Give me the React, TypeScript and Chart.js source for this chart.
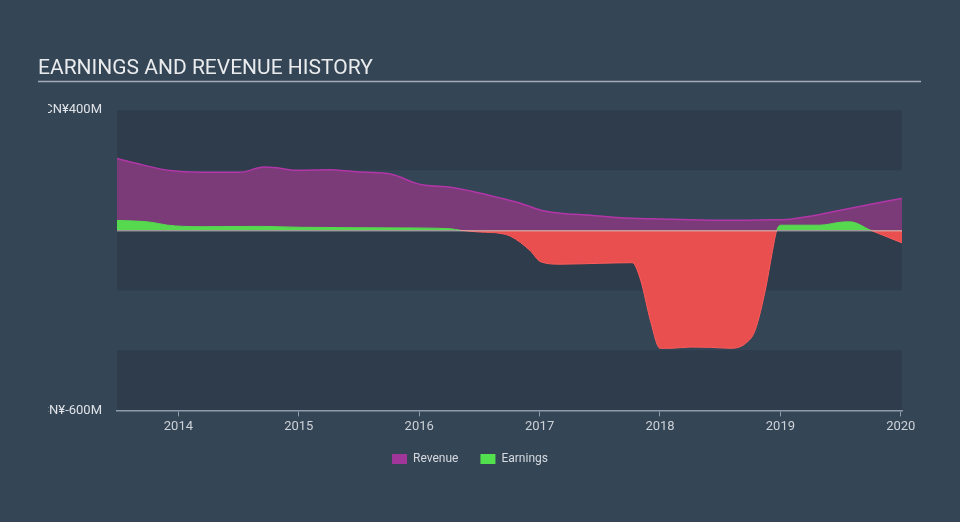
import React, { useEffect, useRef } from "react";
import { Chart, registerables } from "chart.js";

Chart.register(...registerables);

// ---- data (years as decimals, values in CN¥ millions) ----
const revenueDates = [2013.49, 2013.71, 2013.91, 2014.18, 2014.51, 2014.71, 2014.82, 2014.97, 2015.26, 2015.47, 2015.72, 2015.8, 2015.97, 2016.05, 2016.26, 2016.47, 2016.67, 2016.84, 2017.01, 2017.17, 2017.42, 2017.67, 2017.92, 2018.34, 2018.58, 2018.92, 2019.08, 2019.25, 2019.5, 2019.75, 2020.01];
const revenueValues = [239, 217, 200, 193, 193, 211, 208, 200, 202, 195, 190, 183, 157, 150, 143, 127, 108, 90, 67, 57, 50, 42, 38, 34, 33, 35, 37, 47, 67, 87, 106];

const earningsDates = [2013.49, 2013.77, 2013.91, 2014.18, 2014.68, 2015.01, 2015.84, 2016.26, 2016.34, 2016.51, 2016.67, 2016.76, 2016.92, 2017.01, 2017.17, 2017.5, 2017.77, 2017.84, 2017.92, 2018.0, 2018.09, 2018.25, 2018.42, 2018.58, 2018.71, 2018.79, 2018.88, 2018.93, 2018.97, 2019.0, 2019.33, 2019.5, 2019.58, 2019.75, 2020.01];
const earningsValues = [33, 27, 17, 12, 13, 10, 8, 5, 0, -6, -10, -20, -67, -105, -113, -110, -108, -167, -300, -393, -393, -389, -390, -393, -377, -333, -189, -78, 0, 17, 17, 27, 28, 0, -42];

const xTickYears = [2014, 2015, 2016, 2017, 2018, 2019, 2020];
const yTickValues = [400, 200, 0, -200, -400, -600];
const yLabelValues = [400, -600];
const xMin = 2013.49;
const xMax = 2020.01;

const TITLE = "EARNINGS AND REVENUE HISTORY";
const BG = "#344556";
const BAND = "#2e3c4b";
const PURPLE_FILL = "#7b3a78";
const PURPLE_LINE = "#b236a8";
const GREEN = "#56d94f";
const RED = "#ea4f4f";

const fmtY = (v: number) => (v < 0 ? `CN¥-${Math.abs(v)}M` : `CN¥${v}M`);

export default function App() {
  const ref = useRef<HTMLCanvasElement | null>(null);

  useEffect(() => {
    document.body.style.margin = "0";
    const canvas = ref.current;
    if (!canvas) return;
    Chart.defaults.font.family = "Roboto";

    const decor = {
      id: "decor",
      beforeDraw(chart: any) {
        const { ctx, width, height, chartArea, scales } = chart;
        ctx.save();
        ctx.beginPath();
        ctx.rect(0, 0, width, 100);
        ctx.rect(48, 100, width - 48, height - 100);
        ctx.clip();
        // alternating bands
        const y = scales.y;
        for (let i = 0; i < yTickValues.length - 1; i++) {
          if (i % 2 === 0) {
            const top = y.getPixelForValue(yTickValues[i]);
            const bot = y.getPixelForValue(yTickValues[i + 1]);
            ctx.fillStyle = BAND;
            ctx.fillRect(chartArea.left, top, chartArea.right - chartArea.left, bot - top);
          }
        }
        // title underline
        ctx.strokeStyle = "#a3abb4";
        ctx.lineWidth = 1.5;
        ctx.beginPath();
        ctx.moveTo(38, 81.5);
        ctx.lineTo(width - 39, 81.5);
        ctx.stroke();
      },
      afterDatasetsDraw(chart: any) {
        const { ctx, chartArea, scales } = chart;
        const y0 = scales.y.getPixelForValue(0);
        ctx.save();
        ctx.strokeStyle = "rgba(225,225,225,0.5)";
        ctx.lineWidth = 1.5;
        ctx.beginPath();
        ctx.moveTo(chartArea.left, y0 + 0.5);
        ctx.lineTo(chartArea.right, y0 + 0.5);
        ctx.stroke();
        ctx.restore();
      },
      afterDraw(chart: any) {
        chart.ctx.restore();
      },
    };

    const chart = new Chart(canvas, {
      type: "line",
      data: {
        datasets: [
          {
            label: "Earnings",
            data: earningsDates.map((d, i) => ({ x: d, y: earningsValues[i] })),
            borderWidth: 1,
            segment: {
              borderColor: (c: any) => (c.p0.parsed.y + c.p1.parsed.y >= 0 ? GREEN : "#ff5b5b"),
            },
            borderColor: GREEN,
            backgroundColor: GREEN,
            fill: { target: { value: 0 }, above: GREEN, below: RED },
            pointRadius: 0,
            cubicInterpolationMode: "monotone",
          },
          {
            label: "Revenue",
            data: revenueDates.map((d, i) => ({ x: d, y: revenueValues[i] })),
            borderWidth: 1.5,
            borderColor: PURPLE_LINE,
            backgroundColor: PURPLE_FILL,
            fill: { target: { value: 0 }, above: PURPLE_FILL, below: PURPLE_FILL },
            pointRadius: 0,
            cubicInterpolationMode: "monotone",
          },
        ],
      },
      options: {
        animation: false,
        responsive: false,
        devicePixelRatio: 1,
        layout: { padding: { left: 38, right: 58, top: 0, bottom: 47 } },
        plugins: {
          title: {
            display: true,
            text: TITLE,
            align: "start",
            color: "#e9ebed",
            font: { size: 21, weight: "normal" },
            padding: { top: 56, bottom: 29 },
          },
          legend: {
            position: "bottom",
            labels: {
              boxWidth: 15,
              boxHeight: 10,
              padding: 22,
              color: "#d6dadf",
              font: { size: 12 },
              generateLabels: () => [
                { text: "Revenue", fillStyle: "#a0369a", strokeStyle: "#a0369a", lineWidth: 0, datasetIndex: 1, fontColor: "#d6dadf" },
                { text: "Earnings", fillStyle: "#52e04e", strokeStyle: "#52e04e", lineWidth: 0, datasetIndex: 0, fontColor: "#d6dadf" },
              ],
            },
          },
          tooltip: { enabled: false },
        },
        scales: {
          x: {
            type: "linear",
            min: xMin,
            max: xMax,
            afterBuildTicks: (s: any) => {
              s.ticks = xTickYears.map((v) => ({ value: v }));
            },
            afterFit: (s: any) => {
              s.height = s.height - 7;
            },
            ticks: {
              callback: (v: any) => String(v),
              color: "#cdd2d7",
              font: { size: 13 },
              padding: 3,
              maxRotation: 0,
              autoSkip: false,
            },
            grid: { display: true, drawOnChartArea: false, drawTicks: true, tickLength: 6, color: "#8e9bab", lineWidth: 1 },
            border: { display: true, color: "#8e9bab", width: 1.5 },
          },
          y: {
            min: -600,
            max: 400,
            afterBuildTicks: (s: any) => {
              s.ticks = yTickValues.map((v) => ({ value: v }));
            },
            afterFit: (s: any) => {
              s.width = 79;
            },
            ticks: {
              callback: (v: any) => (yLabelValues.includes(v) ? fmtY(v) : ""),
              color: "#dfe2e6",
              font: { size: 13 },
              padding: 15,
              autoSkip: false,
            },
            grid: { display: false, drawTicks: false },
            border: { display: false },
          },
        },
      },
      plugins: [decor],
    } as any);

    return () => chart.destroy();
  }, []);

  return (
    <div style={{ position: "fixed", left: 0, top: 0, width: 960, height: 522, background: BG }}>
      <canvas ref={ref} width={960} height={522} style={{ display: "block" }} />
    </div>
  );
}
